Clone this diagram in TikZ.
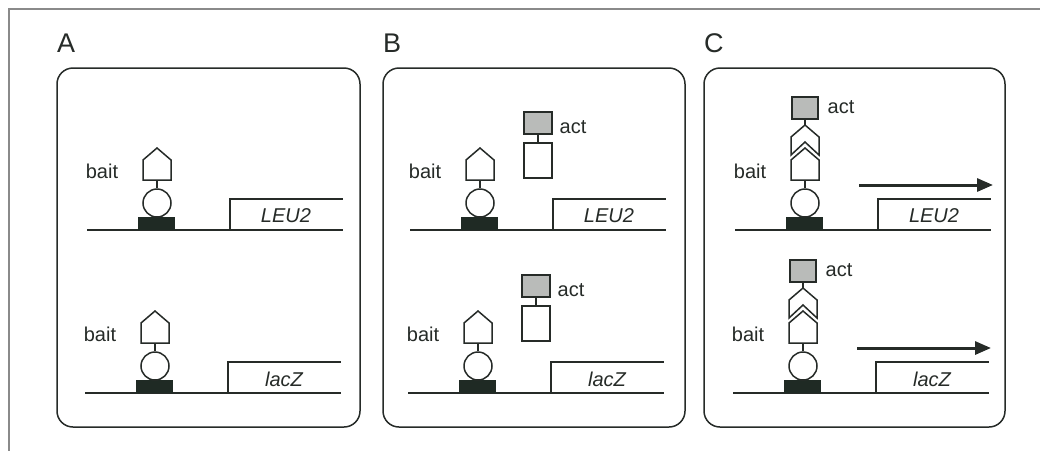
\documentclass[tikz,border=0pt]{standalone}
\usepackage{fontspec}
\setmainfont{Liberation Sans}
\usetikzlibrary{arrows.meta}
\definecolor{ink}{HTML}{262B28}
\definecolor{blk}{HTML}{1F2A24}
\definecolor{actgray}{HTML}{B9BBB9}
\definecolor{frame}{HTML}{8A8A8A}
\tikzset{
  dna/.style={draw=ink,line width=2.8pt},
  prot/.style={draw=ink,line width=1.5pt,fill=white,line join=miter},
  gene/.style={draw=ink,line width=1.8pt},
  lbl/.style={text=ink,font=\fontsize{20}{24}\selectfont,inner sep=0pt},
  genelbl/.style={text=ink,font=\fontsize{20}{24}\selectfont\itshape,inner sep=0pt},
  panellbl/.style={text=ink,font=\fontsize{27}{30}\selectfont,inner sep=0pt,anchor=south west},
  panel/.style={draw=ink,line width=1.5pt,rounded corners=16pt},
  bindbox/.style={fill=blk},
  actbox/.style={draw=ink,line width=1.3pt,fill=actgray},
  expr/.style={draw=ink,line width=3pt,-{Triangle[length=16pt,width=13pt]}}
}
\newcommand\baserow[4]{%
\begin{scope}[shift={(#2,#3)}]
  \draw[dna] (87,230) -- (343,230);
  \fill[bindbox] (138,217) rectangle (175,230);
  \node[circle,draw=ink,line width=1.5pt,minimum size=28pt,inner sep=0pt] (#1c) at (157,203) {};
  \coordinate (#1p) at (157,180);
  \draw[ink,line width=1.5pt] (#1c.north) -- (#1p);
  \draw[prot] (143,180) -- (171,180) -- (171,160) -- (157,148) -- (143,160) -- cycle;
  \node[lbl] (#1bl) at (102,171) {bait};
  \draw[gene] (230,230) |- (343,199);
  \node[genelbl] (#1g) at (286,216) {#4};
\end{scope}}
\newcommand\actfree[3]{%
\begin{scope}[shift={(#2,#3)}]
  \node[actbox,minimum width=28pt,minimum height=22pt,inner sep=0pt] (#1a) at (215,123) {};
  \node[draw=ink,line width=1.3pt,fill=white,minimum width=28pt,minimum height=35pt,inner sep=0pt] (#1w) at (215,160.5) {};
  \draw[ink,line width=1.5pt] (#1a.south) -- (#1w.north);
  \node[lbl] (#1al) at (250,127) {act};
\end{scope}}
\newcommand\actbound[3]{%
\begin{scope}[shift={(#2,#3)}]
  \node[actbox,minimum width=26pt,minimum height=22pt,inner sep=0pt] (#1a) at (157,108) {};
  \coordinate (#1t) at (157,125);
  \draw[ink,line width=1.5pt] (#1a.south) -- (#1t);
  \draw[prot] (#1t) -- (171,137) -- (171,155) -- (157,142) -- (143,155) -- (143,137) -- cycle;
  \node[lbl] (#1al) at (193,107) {act};
  \coordinate (#1s) at (211,185);
  \coordinate (#1e) at (345,185);
  \draw[expr] (#1s) -- (#1e);
\end{scope}}
\begin{document}
\begin{tikzpicture}[x=1pt,y=-1pt]
  \useasboundingbox (0,0) rectangle (1040,451);
  \fill[white] (0,0) rectangle (1040,451);
  \draw[frame,line width=1.5pt] (1040,9) -- (9,9) -- (9,451);
  % panels
  \draw[panel] (57,68) rectangle (360,427);
  \draw[panel] (383,68) rectangle (685,427);
  \draw[panel] (704,68) rectangle (1005,427);
  \node[panellbl] (LA) at (57,53) {A};
  \node[panellbl] (LB) at (383,53) {B};
  \node[panellbl] (LC) at (704,53) {C};
  % panel A
  \baserow{a1}{0}{0}{LEU2}
  \baserow{a2}{-2}{163}{lacZ}
  % panel B
  \baserow{b1}{323}{0}{LEU2}
  \baserow{b2}{321}{163}{lacZ}
  \actfree{b1}{323}{0}
  \actfree{b2}{321}{163}
  % panel C
  \baserow{c1}{648}{0}{LEU2}
  \baserow{c2}{646}{163}{lacZ}
  \actbound{c1}{648}{0}
  \actbound{c2}{646}{163}
\end{tikzpicture}
\end{document}
